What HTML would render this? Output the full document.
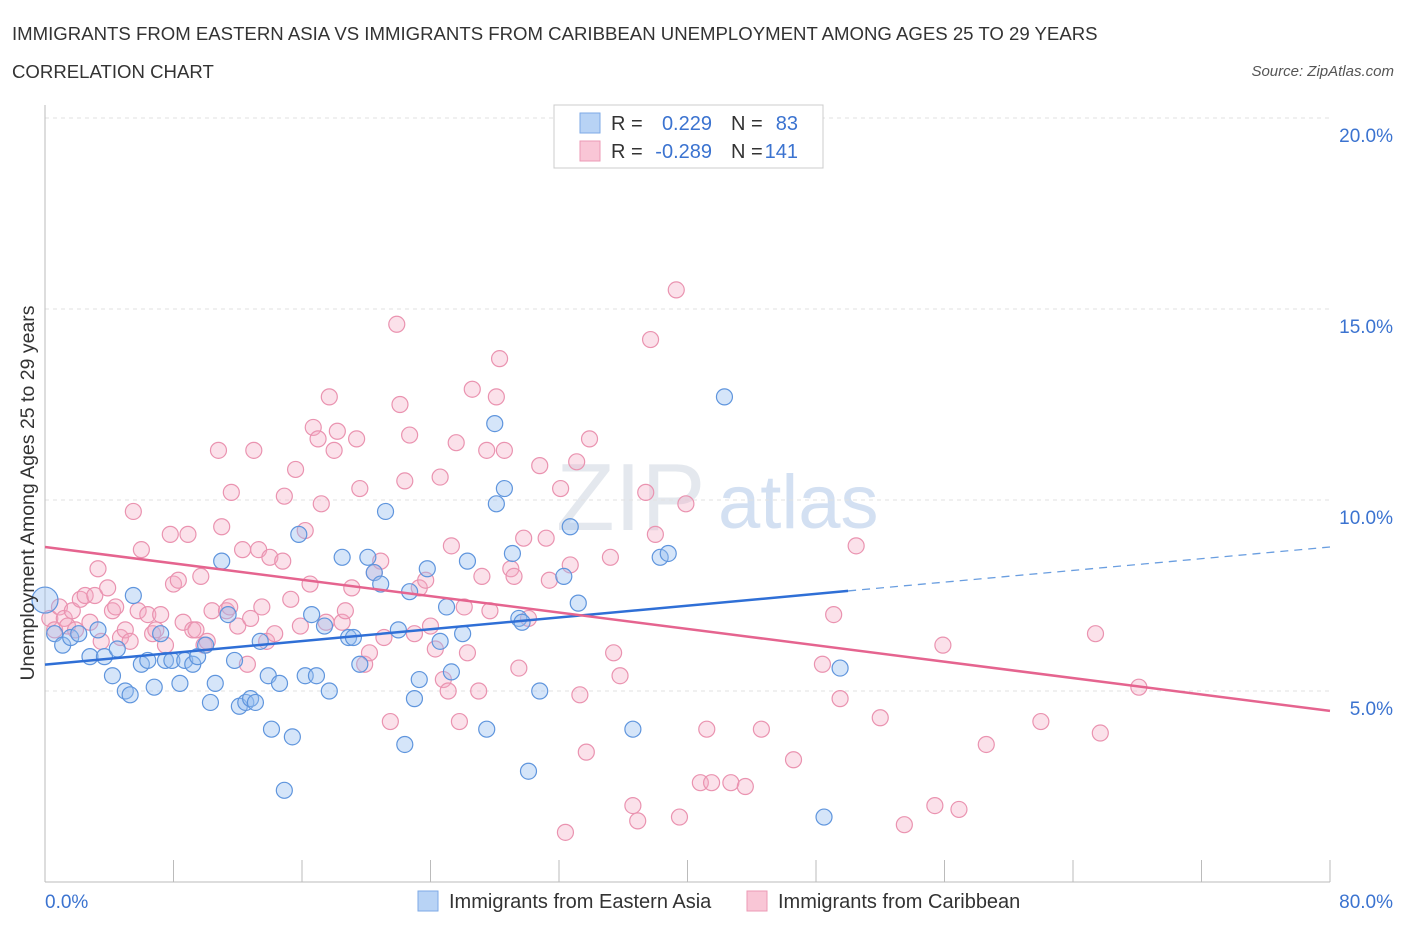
<!DOCTYPE html>
<html><head><meta charset="utf-8"><style>
body{margin:0;background:#fff;width:1406px;height:930px;overflow:hidden;font-family:"Liberation Sans",sans-serif}
svg text{font-family:"Liberation Sans",sans-serif}
</style></head><body>
<svg id="chart" width="1406" height="930" xmlns="http://www.w3.org/2000/svg">
<text x="12" y="40" font-size="18.6" fill="#333">IMMIGRANTS FROM EASTERN ASIA VS IMMIGRANTS FROM CARIBBEAN UNEMPLOYMENT AMONG AGES 25 TO 29 YEARS</text>
<text x="12" y="78" font-size="18.6" fill="#333">CORRELATION CHART</text>
<text x="1394" y="76" font-size="15" fill="#555" text-anchor="end" font-style="italic">Source: ZipAtlas.com</text>
<g>
<text x="556" y="530" font-size="96" fill="#e4e8ee" font-family="Liberation Serif">ZIP</text>
<text x="718" y="528" font-size="76" fill="#d3e0f2">atlas</text>
</g>
<g id="grid"></g>
<g id="axes"></g>
<g id="pts"></g>
<g id="trend"></g>
<text transform="translate(34,493) rotate(-90)" font-size="19.5" fill="#333" text-anchor="middle">Unemployment Among Ages 25 to 29 years</text>
<g>
<rect x="554" y="105" width="269" height="63" fill="#fff" stroke="#ccc"/>
<rect x="580" y="113" width="20" height="20" fill="#b8d3f5" stroke="#7ea9e6"/>
<rect x="580" y="141" width="20" height="20" fill="#f9c6d6" stroke="#ec9ab5"/>
<text x="611" y="130" font-size="20" fill="#333">R =</text><text x="712" y="130" font-size="20" fill="#3b73d0" text-anchor="end">0.229</text>
<text x="731" y="130" font-size="20" fill="#333">N =</text><text x="798" y="130" font-size="20" fill="#3b73d0" text-anchor="end">83</text>
<text x="611" y="158" font-size="20" fill="#333">R =</text><text x="712" y="158" font-size="20" fill="#3b73d0" text-anchor="end">-0.289</text>
<text x="731" y="158" font-size="20" fill="#333">N =</text><text x="798" y="158" font-size="20" fill="#3b73d0" text-anchor="end">141</text>
</g>
<g>
<rect x="418" y="891" width="20" height="20" fill="#b8d3f5" stroke="#7ea9e6"/>
<text x="449" y="908" font-size="20" fill="#333">Immigrants from Eastern Asia</text>
<rect x="747" y="891" width="20" height="20" fill="#f9c6d6" stroke="#ec9ab5"/>
<text x="778" y="908" font-size="20" fill="#333">Immigrants from Caribbean</text>
</g>
</svg>
<script>
const yTicks=[5,10,15,20];
const xTickLabels=["0.0%","80.0%"];
const blueX=[0,0.6,1.1,1.6,2.1,2.8,3.3,3.7,4.2,4.5,5.0,5.3,5.5,6.0,6.4,6.8,7.2,7.5,7.9,8.4,8.7,9.2,9.5,10.0,10.3,10.6,11.0,11.4,11.8,12.1,12.5,12.8,13.1,13.4,13.9,14.1,14.6,14.9,15.4,15.8,16.2,16.6,16.9,17.4,17.7,18.5,18.9,19.2,19.6,20.1,20.5,20.9,21.2,22.0,22.4,22.7,23.0,23.3,23.8,24.6,25.0,25.3,26.0,26.3,27.5,28.0,28.1,28.6,29.1,29.5,29.7,30.1,30.8,32.3,32.7,33.2,36.6,38.3,38.8,42.3,48.5,49.5];
const blueY=[7.38,6.5,6.2,6.4,6.5,5.9,6.6,5.9,5.4,6.1,5.0,4.9,7.5,5.7,5.8,5.1,6.5,5.8,5.8,5.2,5.8,5.7,5.9,6.2,4.7,5.2,8.4,7.0,5.8,4.6,4.7,4.8,4.7,6.3,5.4,4.0,5.2,2.4,3.8,9.1,5.4,7.0,5.4,6.7,5.0,8.5,6.4,6.4,5.7,8.5,8.1,7.8,9.7,6.6,3.6,7.6,4.8,5.3,8.2,6.3,7.2,5.5,6.5,8.4,4.0,12.0,9.9,10.3,8.6,6.9,6.8,2.9,5.0,8.0,9.3,7.3,4.0,8.5,8.6,12.7,1.7,5.6];
const pinkX=[0.3,0.6,0.9,1.2,1.4,1.7,1.9,2.2,2.5,2.8,3.1,3.3,3.5,3.9,4.2,4.4,4.7,5.0,5.3,5.5,5.8,6.0,6.4,6.7,6.9,7.2,7.5,7.8,8.0,8.3,8.6,8.9,9.2,9.4,9.7,9.9,10.1,10.4,10.8,11.0,11.3,11.5,11.6,12.0,12.3,12.6,12.8,13.0,13.3,13.5,13.8,14.0,14.3,14.8,14.9,15.3,15.6,15.9,16.2,16.5,16.7,17.0,17.2,17.5,17.7,18.0,18.2,18.5,18.7,19.1,19.4,19.6,19.9,20.2,20.5,20.9,21.1,21.5,21.9,22.1,22.4,22.7,23.0,23.3,23.7,24.0,24.3,24.6,24.8,25.1,25.3,25.6,25.8,26.1,26.3,26.6,27.0,27.2,27.5,27.7,28.1,28.3,28.6,29.0,29.2,29.5,29.8,30.1,30.8,31.2,31.4,32.1,32.4,32.7,33.1,33.3,33.7,33.9,35.2,35.4,35.8,36.6,36.9,37.4,37.7,38.0,39.3,39.5,39.9,40.8,41.2,41.5,42.7,43.6,44.6,46.6,48.4,49.1,49.5,50.5,52.0,53.5,55.4,55.9,56.9,58.6,62.0,65.4,65.7,68.1];
const pinkY=[6.9,6.6,7.2,6.9,6.7,7.1,6.6,7.4,7.5,6.8,7.5,8.2,6.3,7.7,7.1,7.2,6.4,6.6,6.3,9.7,7.1,8.7,7.0,6.5,6.6,7.0,6.2,9.1,7.8,7.9,6.8,9.1,6.6,6.6,8.0,6.2,6.3,7.1,11.3,9.3,7.1,7.2,10.2,6.7,8.7,5.7,6.9,11.3,8.7,7.2,6.3,8.5,6.5,8.4,10.1,7.4,10.8,6.7,9.2,7.8,11.9,11.6,9.9,6.8,12.7,11.3,11.8,6.8,7.1,7.7,11.6,10.3,5.7,6.0,8.1,8.4,6.4,4.2,14.6,12.5,10.5,11.7,6.5,7.7,7.9,6.7,6.1,10.6,5.3,5.0,8.8,11.5,4.2,7.2,6.0,12.9,5.0,8.0,11.3,7.1,12.7,13.7,11.3,8.2,8.0,5.6,9.0,6.9,10.9,9.0,7.9,10.3,1.3,8.3,11.0,4.9,3.4,11.6,8.5,6.0,5.4,2.0,1.6,10.2,14.2,9.1,15.5,1.7,9.9,2.6,4.0,2.6,2.6,2.5,4.0,3.2,5.7,7.0,4.8,8.8,4.3,1.5,2.0,6.2,1.9,3.6,4.2,6.5,3.9,5.1];
const blueTrend=[5.69,7.62,8.77];
const blueTrendX=[0,50,80];
const pinkTrend=[8.77,4.48];
const pinkTrendX=[0,80];

const NS="http://www.w3.org/2000/svg";
const X0=45,X1=1330,Y0=882,YTOP=118;
function sx(v){return X0+(X1-X0)*v/80;}
function sy(v){return Y0-(Y0-YTOP)*v/20;}
function mk(tag,attrs,parent){const e=document.createElementNS(NS,tag);for(const k in attrs)e.setAttribute(k,attrs[k]);document.getElementById(parent).appendChild(e);return e;}

yTicks.forEach(t=>{
  const l=mk('line',{x1:45,x2:1330,y1:sy(t),y2:sy(t),stroke:'#e2e2e2','stroke-dasharray':'4,4'},'grid');
  
  
  const tx=mk('text',{x:1393,y:sy(t)+24,'font-size':19,fill:'#3b73d0','text-anchor':'end'},'grid');
  tx.textContent=t.toFixed(1)+'%';
  
  
});
const ax=mk('line',{x1:45,x2:45,y1:105,y2:882,stroke:'#bbb'},'axes');


const bx=mk('line',{x1:45,x2:1330,y1:882,y2:882,stroke:'#bbb'},'axes');


for(let v=0;v<=80;v+=8){
  const t=mk('line',{x1:sx(v),x2:sx(v),y1:860,y2:882,stroke:'#bbb'},'axes');
  
  
}
[[0,'start',45],[80,'end',1393]].forEach((p,i)=>{
  const t=mk('text',{x:p[2],y:908,'font-size':19,fill:'#3b73d0','text-anchor':p[1]},'axes');
  t.textContent=xTickLabels[i];
  
  
});
pinkX.forEach((x,i)=>{
  const c=mk('circle',{cx:sx(x),cy:sy(pinkY[i]),r:8,fill:'rgba(244,170,195,0.35)',stroke:'#ea93b0','stroke-width':1.2},'pts');
  
  
});
blueX.forEach((x,i)=>{
  const c=mk('circle',{cx:sx(x),cy:sy(blueY[i]),r:i===0?13:8,fill:'rgba(150,190,240,0.4)',stroke:'#5f95dd','stroke-width':1.2},'pts');
  
  
});
const bl=mk('line',{x1:sx(blueTrendX[0]),y1:sy(blueTrend[0]),x2:sx(blueTrendX[1]),y2:sy(blueTrend[1]),stroke:'#2f6fd6','stroke-width':2.5},'trend');


const bd=mk('line',{x1:sx(blueTrendX[1]),y1:sy(blueTrend[1]),x2:sx(blueTrendX[2]),y2:sy(blueTrend[2]),stroke:'#6a9ee0','stroke-width':1.3,'stroke-dasharray':'8,6'},'trend');


const pl=mk('line',{x1:sx(pinkTrendX[0]),y1:sy(pinkTrend[0]),x2:sx(pinkTrendX[1]),y2:sy(pinkTrend[1]),stroke:'#e5648f','stroke-width':2.5},'trend');


</script>
</body></html>
